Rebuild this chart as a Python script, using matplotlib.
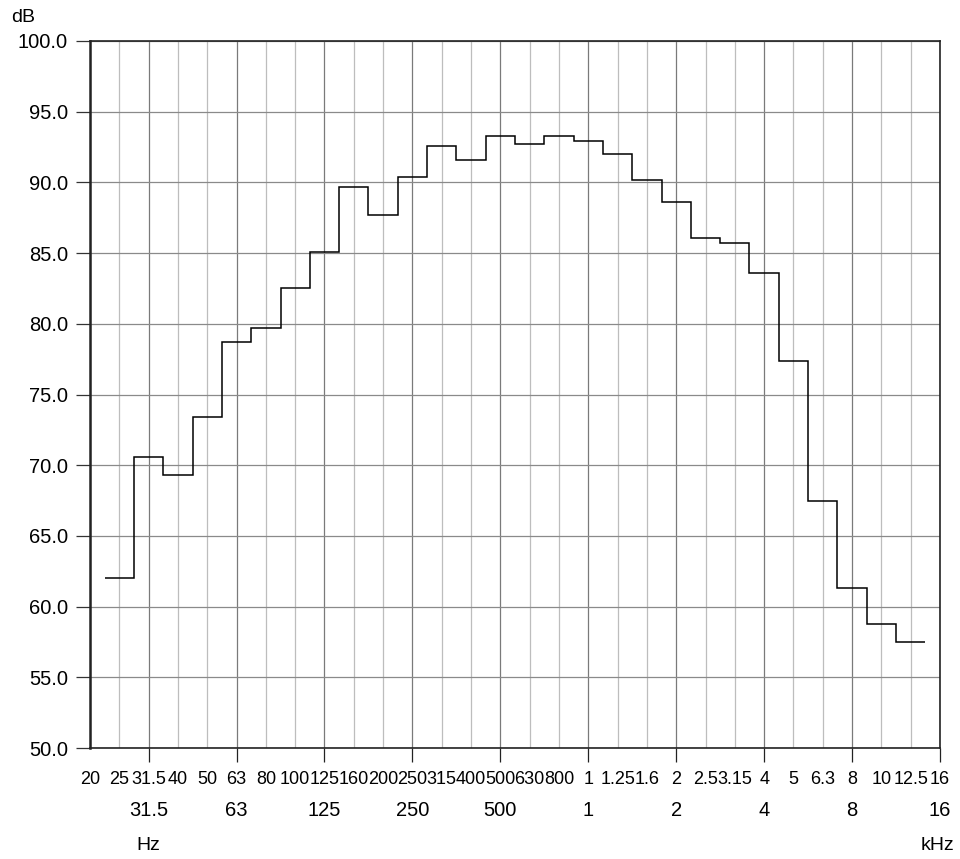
import numpy as np
import matplotlib
matplotlib.use("Agg")
import matplotlib.pyplot as plt
from matplotlib.transforms import blended_transform_factory

plt.rcParams['font.family'] = ['Liberation Sans', 'DejaVu Sans']

# 1/3-octave band labels (20 Hz .. 16 kHz)
band_labels = ["20", "25", "31.5", "40", "50", "63", "80", "100", "125", "160",
               "200", "250", "315", "400", "500", "630", "800", "1", "1.25", "1.6",
               "2", "2.5", "3.15", "4", "5", "6.3", "8", "10", "12.5", "16"]
octave_labels = ["31.5", "63", "125", "250", "500", "1", "2", "4", "8", "16"]
octave_index = [2, 5, 8, 11, 14, 17, 20, 23, 26, 29]

# Levels (dB) for bands 25 Hz .. 12.5 kHz
levels = [62.0, 70.6, 69.3, 73.4, 78.7, 79.7, 82.5, 85.1, 89.7, 87.7,
          90.4, 92.6, 91.6, 93.3, 92.7, 93.3, 92.9, 92.0, 90.2, 88.6,
          86.1, 85.7, 83.6, 77.4, 67.5, 61.3, 58.8, 57.5]
first_band = 1

y_ticks = [50, 55, 60, 65, 70, 75, 80, 85, 90, 95, 100]

fig = plt.figure(figsize=(9.6, 8.59), dpi=100)
W, H = 960, 859
ax = fig.add_axes([90 / W, 1 - 748 / H, 850 / W, 707 / H])

nb = len(band_labels)
ax.set_xlim(0, nb - 1)
ax.set_ylim(50, 100)

# vertical grid lines
for i in range(nb):
    c = "#7a7a7a" if i in octave_index else "#bdbdbd"
    ax.axvline(i, color=c, lw=0.9, zorder=1)
# horizontal grid lines
for v in y_ticks:
    ax.axhline(v, color="#8a8a8a", lw=0.9, zorder=1)

edges = np.arange(len(levels) + 1) + first_band - 0.5
ax.stairs(levels, edges, color="black", lw=1.1, baseline=None, zorder=3)

# y axis
ax.set_yticks(y_ticks)
ax.set_yticklabels([f"{v:.1f}" for v in y_ticks], fontsize=14.5)
ax.tick_params(axis="y", length=10, width=0.9, color="#333333", pad=6)

# x axis: octave ticks with labels (second row)
ax.set_xticks(octave_index)
ax.set_xticklabels(octave_labels, fontsize=14.5)
ax.tick_params(axis="x", length=10, width=0.9, color="#222222", pad=28.5)

for s in ax.spines.values():
    s.set_color("#222222")
    s.set_linewidth(1.2)
ax.spines["left"].set_linewidth(1.8)

# top row: every band label
trans = blended_transform_factory(ax.transData, fig.transFigure)
for i, lab in enumerate(band_labels):
    ax.text(i, 1 - 780 / H, lab, transform=trans, ha="center", va="center",
            fontsize=13)

fig.text(148 / W, 1 - 846 / H, "Hz", ha="center", va="center", fontsize=14)
fig.text(937 / W, 1 - 846 / H, "kHz", ha="center", va="center", fontsize=14)
fig.text(23 / W, 1 - 18 / H, "dB", ha="center", va="center", fontsize=14)

fig.savefig("out.png", dpi=100)
